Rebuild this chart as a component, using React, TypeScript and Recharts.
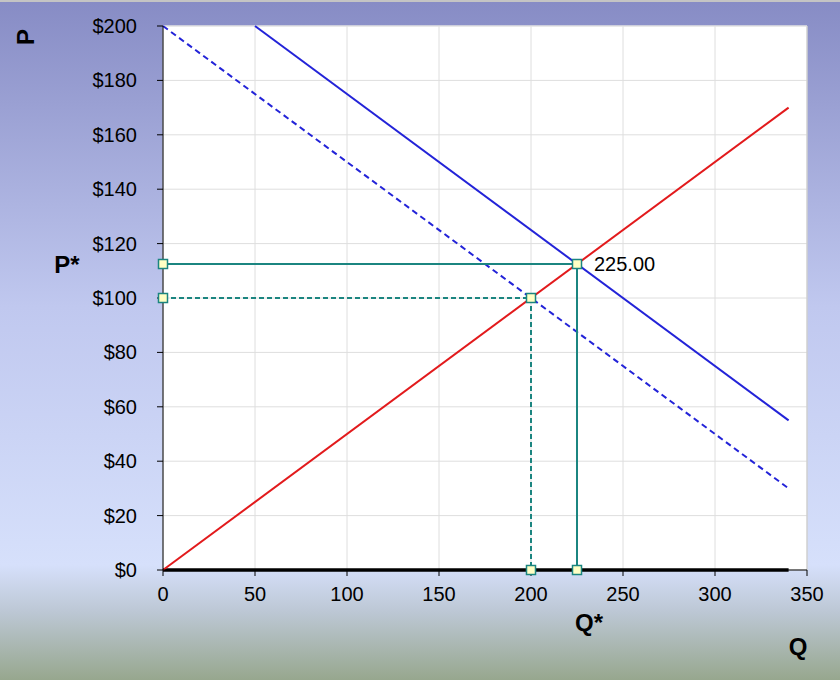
import React from "react";
import {
  CartesianGrid,
  ComposedChart,
  LabelList,
  Line,
  ReferenceLine,
  XAxis,
  YAxis,
} from "recharts";

// curves (Q, P)
const supply = [
  { q: 0, p: 0 },
  { q: 340, p: 170 },
];
const demand = [
  { q: 50, p: 200 },
  { q: 340, p: 55 },
];
const demandOld = [
  { q: 0, p: 200 },
  { q: 340, p: 30 },
];
// equilibrium guides
const eqNew = [
  { q: 0, p: 112.5 },
  { q: 225, p: 112.5, tag: "225.00" },
  { q: 225, p: 0 },
];
const eqOld = [
  { q: 0, p: 100 },
  { q: 200, p: 100 },
  { q: 200, p: 0 },
];
const baseLine = [
  { q: 0, p: 0 },
  { q: 340, p: 0 },
];

const xTicks = [0, 50, 100, 150, 200, 250, 300, 350];
const yTicks = [0, 20, 40, 60, 80, 100, 120, 140, 160, 180, 200];

const TEAL = "#1b8580";
const font = "'Liberation Sans', Arial, sans-serif";

const Square = (props: any) => {
  const { cx, cy, index } = props;
  if (cx == null || cy == null) return null;
  return (
    <rect
      key={`sq-${index}-${cx}`}
      x={cx - 4.5}
      y={cy - 4.5}
      width={9}
      height={9}
      fill="#ffffc4"
      stroke={TEAL}
      strokeWidth={1.5}
    />
  );
};

const TagLabel = (props: any) => {
  const { x, y, value } = props;
  if (!value) return null;
  return (
    <text x={x + 17} y={y} dy="0.35em" fontSize={20} fill="#000" fontFamily={font}>
      {value}
    </text>
  );
};

const XTick = (props: any) => {
  const { x, y, payload } = props;
  return (
    <text x={x} y={y} dy="0.71em" textAnchor="middle" fontSize={20} fill="#000" fontFamily={font}>
      {payload.value}
    </text>
  );
};

const YTick = (props: any) => {
  const { x, y, payload } = props;
  return (
    <text x={x} y={y} dy="0.35em" textAnchor="end" fontSize={20} fill="#000" fontFamily={font}>
      {`$${payload.value}`}
    </text>
  );
};

const bold: React.CSSProperties = {
  position: "absolute",
  fontFamily: font,
  fontWeight: "bold",
  fontSize: 24,
  color: "#000",
  lineHeight: 1,
};

export default function App() {
  return (
    <div
      style={{
        position: "absolute",
        left: 0,
        top: 0,
        width: 840,
        height: 680,
        background:
          "linear-gradient(to bottom, #878cc5 0%, #c0c8ef 45%, #d6e0fb 83%, #bcc7d4 90%, #97a78e 100%)",
        borderTop: "2px solid #c4c4c4",
        boxSizing: "border-box",
      }}
    >
      <ComposedChart
        width={840}
        height={678}
        margin={{ top: 24, right: 33, bottom: 80, left: 0 }}
        style={{ position: "absolute", left: 0, top: 0 }}
      >
        <CartesianGrid stroke="#dedede" fill="#ffffff" />
        <XAxis
          type="number"
          dataKey="q"
          domain={[0, 350]}
          ticks={xTicks}
          interval={0}
          height={30}
          allowDuplicatedCategory={false}
          stroke="#000"
          tickSize={6}
          tickMargin={11}
          tick={<XTick />}
        />
        <YAxis
          type="number"
          dataKey="p"
          domain={[0, 200]}
          ticks={yTicks}
          interval={0}
          width={163}
          stroke="#000"
          tickSize={6}
          tickMargin={20}
          tick={<YTick />}
        />
        <ReferenceLine x={350} stroke="#c8c8c8" />
        <ReferenceLine y={200} stroke="#e4e4e4" />
        <Line
          data={baseLine}
          dataKey="p"
          stroke="#000"
          strokeWidth={3.5}
          dot={false}
          isAnimationActive={false}
        />
        <Line
          data={demandOld}
          dataKey="p"
          stroke="#2323d8"
          strokeWidth={2}
          strokeDasharray="6 4"
          dot={false}
          isAnimationActive={false}
        />
        <Line
          data={demand}
          dataKey="p"
          stroke="#2323d8"
          strokeWidth={2}
          dot={false}
          isAnimationActive={false}
        />
        <Line
          data={eqOld}
          dataKey="p"
          stroke={TEAL}
          strokeWidth={2}
          strokeDasharray="5 3"
          dot={<Square />}
          isAnimationActive={false}
        />
        <Line
          data={supply}
          dataKey="p"
          stroke="#e21a1c"
          strokeWidth={2}
          dot={false}
          isAnimationActive={false}
        />
        <Line
          data={eqNew}
          dataKey="p"
          stroke={TEAL}
          strokeWidth={2}
          dot={<Square />}
          isAnimationActive={false}
        >
          <LabelList dataKey="tag" content={<TagLabel />} />
        </Line>
      </ComposedChart>
      <div
        style={{
          ...bold,
          left: 26,
          top: 35,
          transform: "translate(-50%, -50%) rotate(-90deg)",
        }}
      >
        P
      </div>
      <div style={{ ...bold, left: 67, top: 263, transform: "translate(-50%, -50%)" }}>P*</div>
      <div style={{ ...bold, left: 589, top: 621, transform: "translate(-50%, -50%)" }}>Q*</div>
      <div style={{ ...bold, left: 798, top: 645, transform: "translate(-50%, -50%)" }}>Q</div>
    </div>
  );
}
